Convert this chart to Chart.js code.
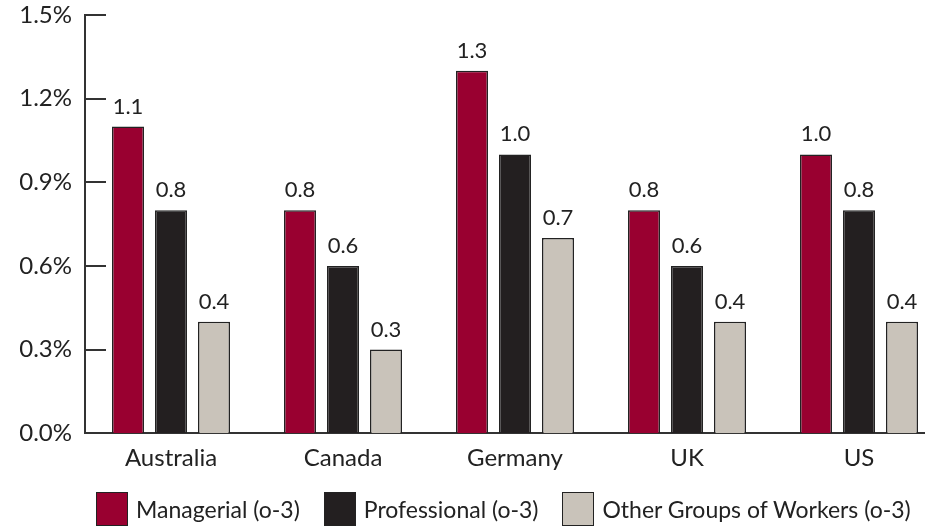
<!DOCTYPE html>
<html>
<head>
<meta charset="utf-8">
<script src="https://cdn.jsdelivr.net/npm/chart.js@4"></script>
<style>
  html, body { margin: 0; padding: 0; background: #fff; }
  #wrap { position: relative; width: 925px; height: 527px; overflow: hidden; }
  #legend { position: absolute; left: 96px; top: 492px; display: flex; align-items: center; white-space: nowrap; font-family: Lato, sans-serif; font-size: 23px; color: #222; }
  .item { display: flex; align-items: center; flex-shrink: 0; margin-right: 24px; }
  .box { width: 32px; height: 34px; box-sizing: border-box; border: 1.5px solid #222; margin-right: 8px; }
</style>
</head>
<body>
<div id="wrap">
  <canvas id="chart" width="945" height="527"></canvas>
  <div id="legend"></div>
</div>
<script>
document.addEventListener('DOMContentLoaded', () => {
    const countries = ['Australia', 'Canada', 'Germany', 'UK', 'US'];
    const managerial = [1.1, 0.8, 1.3, 0.8, 1.0];
    const professional = [0.8, 0.6, 1.0, 0.6, 0.8];
    const otherWorkers = [0.4, 0.3, 0.7, 0.4, 0.4];
    const seriesNames = ['Managerial (o-3)', 'Professional (o-3)', 'Other Groups of Workers (o-3)'];
    const seriesColors = ['#990030', '#231f20', '#c9c3ba'];

    const fontFamily = 'Lato, sans-serif';
    const textColor = '#222';

    // value labels above each bar
    const barLabels = {
        id: 'barLabels',
        afterDatasetsDraw(chart) {
            const ctx = chart.ctx;
            ctx.save();
            ctx.font = '22px ' + fontFamily;
            ctx.fillStyle = textColor;
            ctx.textAlign = 'center';
            ctx.textBaseline = 'bottom';
            chart.data.datasets.forEach((ds, i) => {
                chart.getDatasetMeta(i).data.forEach((bar, j) => {
                    ctx.fillText(ds.data[j].toFixed(1), bar.x, bar.y - 9);
                });
            });
            ctx.restore();
        }
    };

    // tick marks pointing into the plot area
    const innerTicks = {
        id: 'innerTicks',
        afterDraw(chart) {
            const y = chart.scales.y;
            const ctx = chart.ctx;
            ctx.save();
            ctx.strokeStyle = '#333';
            ctx.lineWidth = 2;
            y.ticks.forEach(t => {
                const py = Math.round(y.getPixelForValue(t.value));
                ctx.beginPath();
                ctx.moveTo(y.right, py);
                ctx.lineTo(y.right + 21, py);
                ctx.stroke();
            });
            ctx.restore();
        }
    };

    const datasets = [managerial, professional, otherWorkers].map((vals, i) => ({
        label: seriesNames[i],
        data: vals,
        backgroundColor: seriesColors[i],
        borderColor: '#222',
        borderWidth: 1.5,
        categoryPercentage: 0.75,
        barPercentage: 0.744
    }));

    new Chart(document.getElementById('chart'), {
        type: 'bar',
        data: { labels: countries, datasets: datasets },
        options: {
            responsive: false,
            animation: false,
            devicePixelRatio: 1,
            layout: { padding: { top: 15, bottom: 43, left: 0, right: 0 } },
            plugins: {
                legend: { display: false },
                tooltip: { enabled: false }
            },
            scales: {
                x: {
                    grid: { display: false, drawTicks: false },
                    border: { color: '#333', width: 2 },
                    ticks: { padding: 11, color: textColor, font: { family: fontFamily, size: 24 } }
                },
                y: {
                    min: 0,
                    max: 1.5,
                    afterFit(scale) {
                        scale.width = 85;
                        scale.paddingTop = 0;
                        scale.paddingBottom = 0;
                    },
                    grid: { display: false, drawTicks: false },
                    border: { color: '#333', width: 2 },
                    ticks: {
                        stepSize: 0.3,
                        padding: 13,
                        color: textColor,
                        font: { family: fontFamily, size: 24 },
                        callback: v => v.toFixed(1) + '%'
                    }
                }
            }
        },
        plugins: [barLabels, innerTicks]
    });

    const legend = document.getElementById('legend');
    seriesNames.forEach((name, i) => {
        const item = document.createElement('div');
        item.className = 'item';
        const box = document.createElement('span');
        box.className = 'box';
        box.style.background = seriesColors[i];
        const txt = document.createElement('span');
        txt.textContent = name;
        item.appendChild(box);
        item.appendChild(txt);
        legend.appendChild(item);
    });
});
</script>
</body>
</html>
